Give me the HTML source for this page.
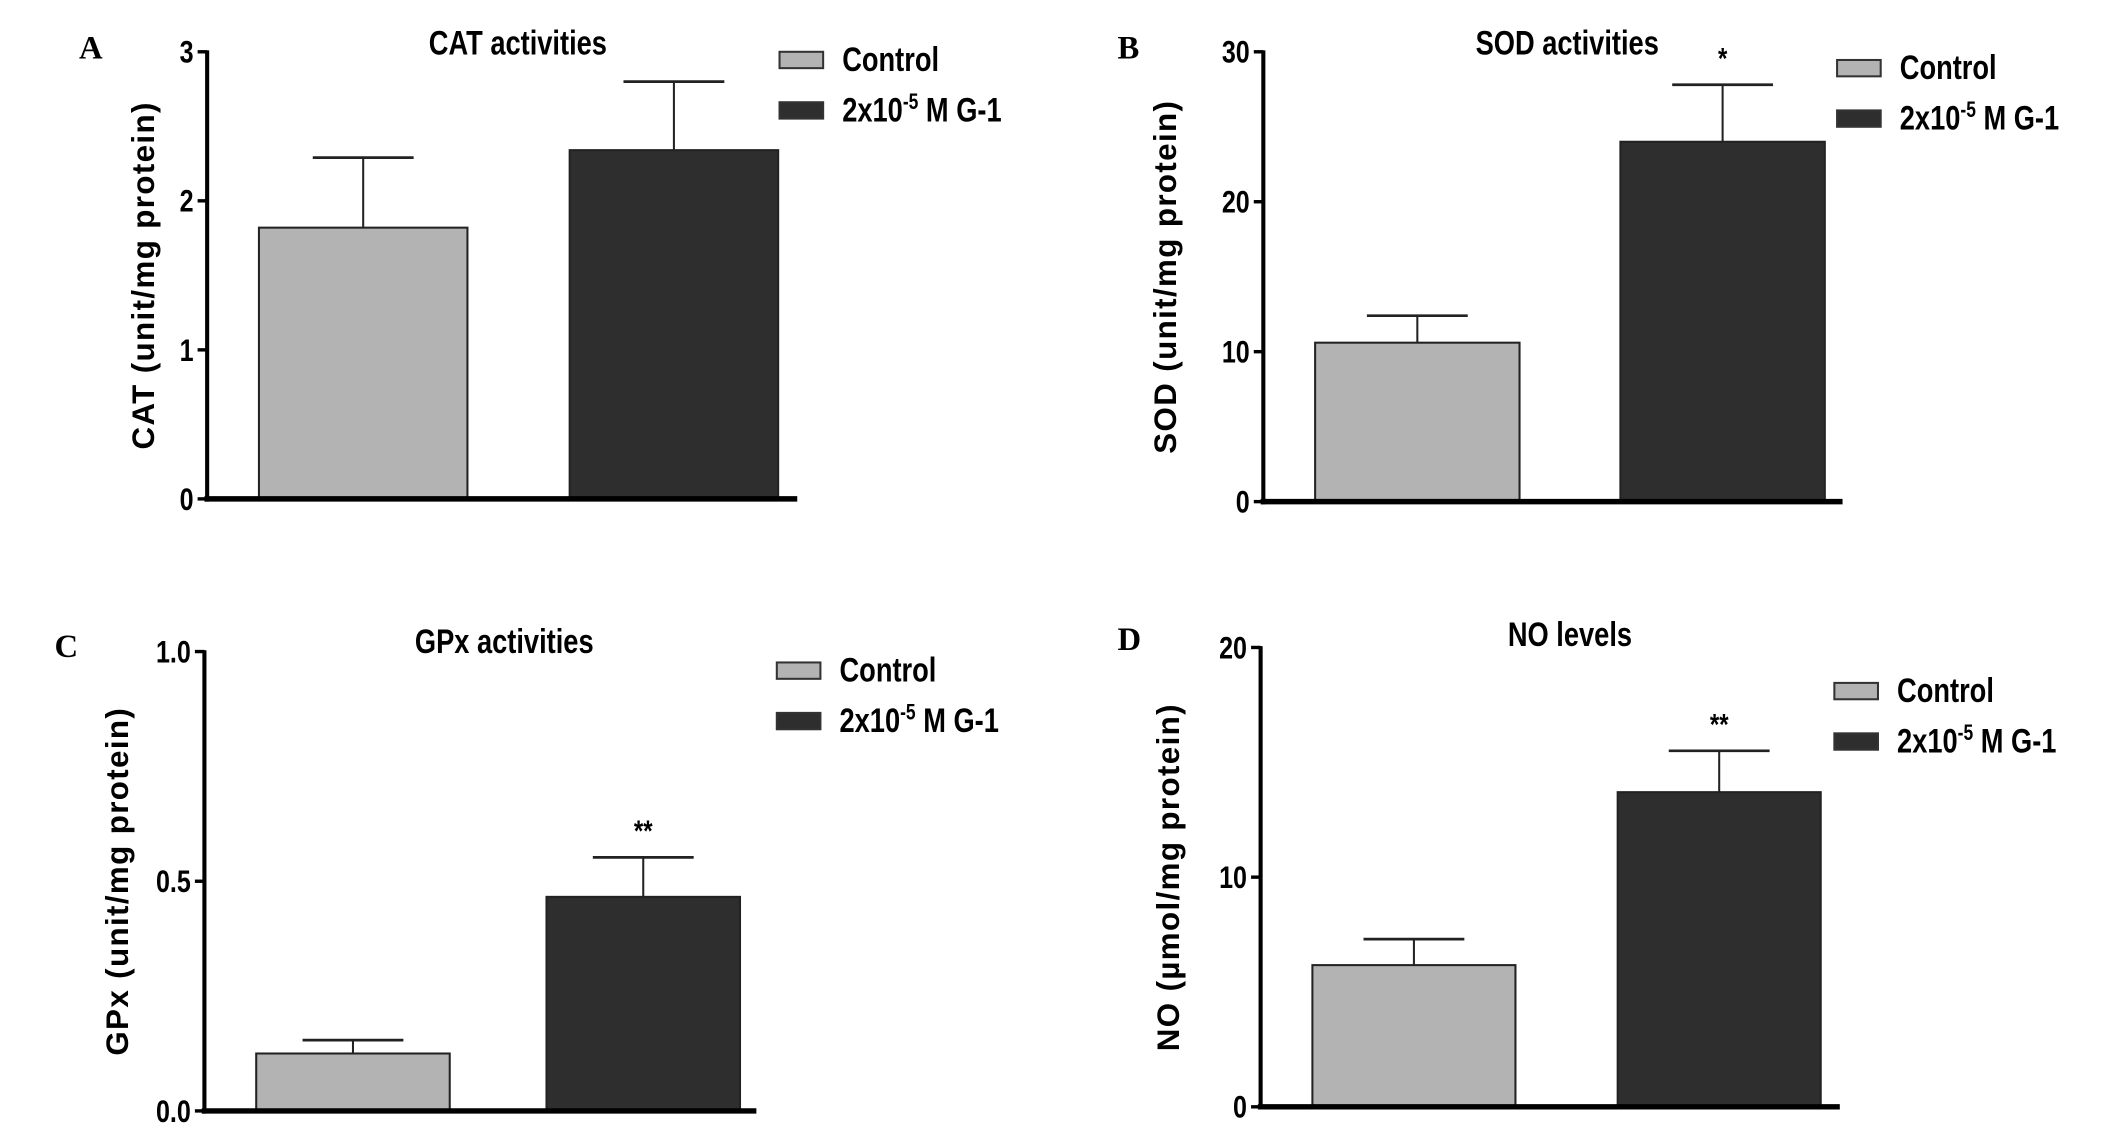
<!DOCTYPE html>
<html><head><meta charset="utf-8"><style>
html,body{margin:0;padding:0;background:#fff;width:2126px;height:1130px;overflow:hidden}
svg{display:block}
.cond{font-family:"Liberation Sans",sans-serif;font-weight:bold}
.wide{font-family:"Liberation Sans",sans-serif;font-weight:bold}
.serif{font-family:"Liberation Serif",serif;font-weight:bold}
</style></head><body>
<svg id="fig" width="2126" height="1130" viewBox="0 0 1560 829" preserveAspectRatio="none" xmlns="http://www.w3.org/2000/svg"></svg>
<script>
const catValues = [1.82, 2.34];
const catErrors = [0.47, 0.46];
const catTicks = ["0", "1", "2", "3"];
const sodValues = [10.6, 24.0];
const sodErrors = [1.8, 3.8];
const sodTicks = ["0", "10", "20", "30"];
const gpxValues = [0.125, 0.466];
const gpxErrors = [0.029, 0.086];
const gpxTicks = ["0.0", "0.5", "1.0"];
const noValues = [6.17, 13.7];
const noErrors = [1.13, 1.8];
const noTicks = ["0", "10", "20"];
const groups = ["Control", "2x10-5 M G-1"];
const sodStars = ["", "*"];
const gpxStars = ["", "**"];
const noStars = ["", "**"];

const NS = "http://www.w3.org/2000/svg";
const svg = document.getElementById('fig');
function mk(tag, attrs, parent) {
  const e = document.createElementNS(NS, tag);
  for (const k in attrs) e.setAttribute(k, attrs[k]);
  (parent || svg).appendChild(e);
  return e;
}
function condText(parent, x, y, anchor, size, txt) {
  const w = mk('g', {transform: `translate(${x},${y}) scale(0.8,1)`}, parent);
  const t = mk('text', {x: 0, y: 0, "text-anchor": anchor, "font-size": size, class: "cond"}, w);
  if (txt !== null) t.textContent = txt;
  return t;
}
const fills = ["#b3b3b3", "#2e2e2e"];

function panel(p) {
  const g = mk('g', {});
  
  
  const y = v => p.y0 - (v / p.max) * (p.y0 - p.yTop);
  p.values.forEach((v, i) => {
    const bx = p.barX[i];
    const eb = mk('line', {x1: bx + p.bw / 2, x2: bx + p.bw / 2, y1: y(v), y2: y(v + p.errors[i]), stroke: "#222", "stroke-width": 1.5}, g);
    
    
    const cap = mk('line', {x1: bx + p.bw / 2 - 37, x2: bx + p.bw / 2 + 37, y1: y(v + p.errors[i]), y2: y(v + p.errors[i]), stroke: "#222", "stroke-width": 2}, g);
    
    
    const r = mk('rect', {x: bx, y: y(v), width: p.bw, height: p.y0 - y(v), fill: fills[i], stroke: "#222", "stroke-width": 1.5}, g);
    
    
    if (p.stars && p.stars[i]) {
      const s = condText(g, bx + p.bw / 2, y(v + p.errors[i]) - 12, "middle", 22, p.stars[i]);
      
      
    }
  });
  const ya = mk('line', {x1: p.ax, x2: p.ax, y1: p.yTop - 1, y2: p.y0 + 2, stroke: "#000", "stroke-width": 3}, g);
  
  
  const xa = mk('line', {x1: p.ax - 2, x2: p.xEnd, y1: p.y0, y2: p.y0, stroke: "#000", "stroke-width": 4}, g);
  
  
  p.ticks.forEach(t => {
    const ty = y(parseFloat(t));
    const tl = mk('line', {x1: p.ax - 7, x2: p.ax, y1: ty, y2: ty, stroke: "#000", "stroke-width": 2.5}, g);
    
    
    const tx = condText(g, p.ax - 10, ty + 8, "end", 23, t);
    
    
  });
  const yt = mk('text', {x: 0, y: 0, "text-anchor": "middle", "font-size": 23, "letter-spacing": 1, class: "wide", transform: `translate(${p.ax - p.titleOff},${(p.yTop + p.y0) / 2}) rotate(-90)`}, g);
  yt.textContent = p.ytitle;
  
  
  const ti = condText(g, p.titleX, p.titleY, "middle", 25, p.title);
  
  
  const le = mk('text', {x: p.letterX, y: p.titleY + 3, "font-size": 24, class: "serif"}, g);
  le.textContent = p.letter;
  
  
  groups.forEach((gname, i) => {
    const ly = p.legY + i * 37;
    const sw = mk('rect', {x: p.legX, y: ly - 6, width: 32, height: 12, fill: fills[i], stroke: "#333", "stroke-width": 1.5}, g);
    
    
    const lt = condText(g, p.legX + 46, ly + 8, "start", 25, null);
    
    
    if (i === 0) lt.textContent = gname;
    else {
      lt.textContent = "2x10";
      const sup = mk('tspan', {dy: -9, "font-size": 16}, lt);
      sup.textContent = "-5";
      const rest = mk('tspan', {dy: 9}, lt);
      rest.textContent = " M G-1";
    }
  });
}

panel({letter: "A", letterX: 58, title: "CAT activities", titleX: 380, titleY: 40, values: catValues, errors: catErrors, ticks: catTicks, max: 3,
  ax: 152, yTop: 38, y0: 366, xEnd: 585, barX: [190, 418], bw: 153, ytitle: "CAT (unit/mg protein)", titleOff: 39, legX: 572, legY: 44});
panel({letter: "B", letterX: 820, title: "SOD activities", titleX: 1150, titleY: 40, values: sodValues, errors: sodErrors, ticks: sodTicks, max: 30, stars: sodStars,
  ax: 927, yTop: 38, y0: 368, xEnd: 1352, barX: [965, 1189], bw: 150, ytitle: "SOD (unit/mg protein)", titleOff: 64, legX: 1348, legY: 50});
panel({letter: "C", letterX: 40, title: "GPx activities", titleX: 370, titleY: 479, values: gpxValues, errors: gpxErrors, ticks: gpxTicks, max: 1,
  ax: 150, yTop: 478, y0: 815, xEnd: 555, barX: [188, 401], bw: 142, stars: gpxStars, ytitle: "GPx (unit/mg protein)", titleOff: 56, legX: 570, legY: 492});
panel({letter: "D", letterX: 820, title: "NO levels", titleX: 1152, titleY: 474, values: noValues, errors: noErrors, ticks: noTicks, max: 20, stars: noStars,
  ax: 925, yTop: 475, y0: 812, xEnd: 1350, barX: [963, 1187], bw: 149, ytitle: "NO (µmol/mg protein)", titleOff: 60, legX: 1346, legY: 507});
</script>
</body></html>
